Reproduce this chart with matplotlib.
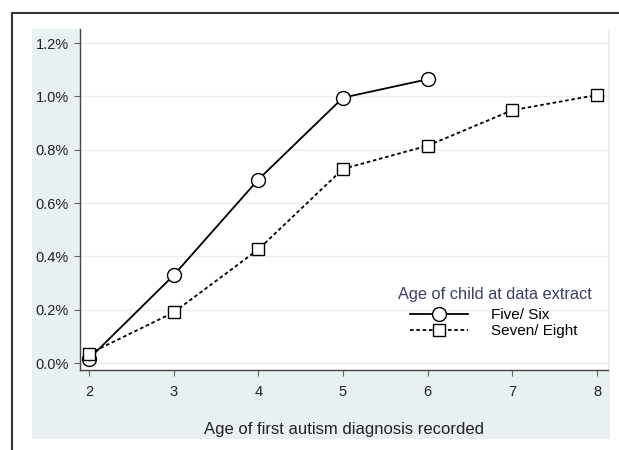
import numpy as np
import matplotlib.pyplot as plt
from matplotlib.patches import Rectangle
from matplotlib.lines import Line2D
from matplotlib.ticker import FuncFormatter

plt.rcParams['font.family'] = ['Liberation Sans', 'DejaVu Sans']

# data (percent)
ages_five_six = [2, 3, 4, 5, 6]
pct_five_six = [0.016, 0.329, 0.688, 0.995, 1.064]
ages_seven_eight = [2, 3, 4, 5, 6, 7, 8]
pct_seven_eight = [0.035, 0.19, 0.426, 0.728, 0.815, 0.948, 1.005]
series_labels = ['Five/ Six', 'Seven/ Eight']
y_ticks = [0.0, 0.2, 0.4, 0.6, 0.8, 1.0, 1.2]
x_ticks = [2, 3, 4, 5, 6, 7, 8]

W, H = 619, 450
fig = plt.figure(figsize=(W / 100, H / 100), dpi=100)
fig.patch.set_facecolor('white')

# light graph region + outer frame lines
fig.add_artist(Rectangle((32 / W, 1 - 439 / H), (610 - 32) / W, (439 - 29) / H,
                         transform=fig.transFigure, facecolor='#e9f0f2',
                         edgecolor='none', zorder=-5))
fig.add_artist(Line2D([12 / W, 1], [1 - 13 / H, 1 - 13 / H], color='#333333', lw=1.5))
fig.add_artist(Line2D([12 / W, 12 / W], [0, 1 - 13 / H], color='#333333', lw=1.5))

ax = fig.add_axes([80 / W, 1 - 370 / H, (608 - 80) / W, (370 - 29) / H])
ax.set_zorder(2)
ax.set_facecolor('white')

ax.plot(ages_five_six, pct_five_six, color='black', lw=1.3, marker='o', ms=10,
        mfc='white', mec='black', mew=1.0, label=series_labels[0], zorder=3)
ax.plot(ages_seven_eight, pct_seven_eight, color='black', lw=1.3, ls=(0, (2, 1.5)),
        marker='s', ms=8.5, mfc='white', mec='black', mew=1.0,
        label=series_labels[1], zorder=3)

ax.set_xlim(1.894, 8.13)
ax.set_ylim(-0.026, 1.2525)
ax.set_xticks(x_ticks)
ax.set_yticks(y_ticks)
ax.yaxis.set_major_formatter(FuncFormatter(lambda v, p: f'{v:.1f}%'))
ax.grid(axis='y', color='#ececec', lw=1)
ax.set_axisbelow(True)
for s in ['top', 'right']:
    ax.spines[s].set_visible(False)
for s in ['left', 'bottom']:
    ax.spines[s].set_color('#444444')
    ax.spines[s].set_linewidth(1.0)
ax.tick_params(axis='both', direction='out', length=4, color='#666666',
               labelsize=10.5, labelcolor='#222222')
ax.tick_params(axis='x', pad=6.5)
ax.tick_params(axis='y', pad=4)

ax.set_xlabel('Age of first autism diagnosis recorded', fontsize=12,
              color='#222222', labelpad=17)

# legend: title as separate text so the gap matches
fig.text(495 / W, 1 - 295 / H, 'Age of child at data extract', fontsize=11.8,
         color='#3b3f66', ha='center', va='center', zorder=5)
leg = fig.legend(*ax.get_legend_handles_labels(), loc='center',
                 bbox_to_anchor=(494 / W, 1 - 323 / H), frameon=False,
                 fontsize=11, handlelength=3.8, handletextpad=1.5,
                 labelspacing=0.15, borderpad=0)
leg.set_zorder(5)

fig.savefig('out.png', dpi=100)
